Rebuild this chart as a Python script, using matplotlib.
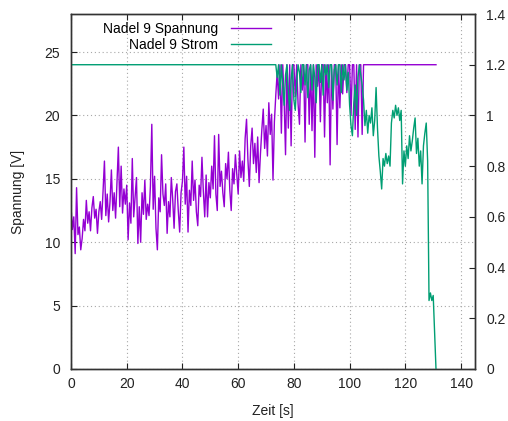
import numpy as np
import matplotlib
matplotlib.use("Agg")
import matplotlib.pyplot as plt

plt.rcParams['font.family'] = ['Liberation Sans', 'DejaVu Sans']

# Voltage samples, every 0.5 s from 0 s to 131 s
voltage = [
    12.8, 11.0, 12.0, 9.1, 14.3, 10.6, 11.2, 9.4, 10.3, 11.8,
    10.9, 13.3, 11.5, 12.4, 10.9, 12.7, 13.6, 11.9, 12.6, 10.7,
    12.4, 13.2, 11.8, 14.0, 16.4, 12.1, 13.8, 11.6, 13.2, 15.7,
    12.5, 13.9, 11.9, 14.6, 17.5, 12.8, 16.0, 12.3, 14.2, 13.0,
    14.5, 10.2, 13.1, 11.5, 16.6, 12.0, 13.6, 15.1, 9.9, 12.8,
    10.0, 13.9, 12.2, 14.9, 11.8, 13.0, 12.1, 14.4, 19.3, 12.6,
    15.2, 11.1, 9.4, 13.5, 12.4, 16.9, 13.8, 12.9, 14.6, 10.7,
    13.2, 12.0, 15.1, 13.4, 11.1, 14.0, 14.6, 12.5, 10.8, 13.9,
    14.8, 17.5, 13.0, 15.2, 10.8, 14.1, 12.9, 16.4, 13.3, 14.9,
    12.4, 11.3, 14.5, 13.6, 16.7, 14.0, 12.0, 15.3, 12.0, 14.7,
    13.5, 16.0, 14.2, 18.4, 13.8, 12.5, 18.5, 14.4, 15.6, 13.9,
    12.8, 16.2, 15.0, 17.1, 14.1, 12.5, 15.8, 14.6, 16.9, 15.3,
    13.8, 17.2, 15.1, 16.4, 14.8, 18.2, 19.7, 16.5, 14.4, 17.6,
    19.0, 16.2, 17.8, 15.5, 18.3, 14.7, 17.0, 18.9, 20.5, 17.4,
    19.2, 16.8, 21.0, 18.5, 20.1, 14.9, 19.5, 21.6, 23.4, 21.3,
    24.0, 18.6, 24.0, 21.2, 16.9, 24.0, 19.0, 24.0, 17.6, 24.0,
    24.0, 21.5, 24.0, 20.9, 19.3, 24.0, 22.0, 24.0, 17.9, 24.0,
    24.0, 19.3, 24.0, 18.8, 24.0, 16.7, 24.0, 22.3, 24.0, 19.5,
    24.0, 24.0, 18.3, 24.0, 21.0, 24.0, 16.1, 24.0, 20.5, 24.0,
    24.0, 17.7, 24.0, 20.6, 24.0, 21.7, 24.0, 24.0, 21.8, 24.0,
    24.0, 20.0, 24.0, 24.0, 18.9, 24.0, 18.3, 24.0, 24.0, 18.5,
    24.0, 24.0, 24.0, 24.0, 24.0, 24.0, 24.0, 24.0, 24.0, 24.0,
    24.0, 24.0, 24.0, 24.0, 24.0, 24.0, 24.0, 24.0, 24.0, 24.0,
    24.0, 24.0, 24.0, 24.0, 24.0, 24.0, 24.0, 24.0, 24.0, 24.0,
    24.0, 24.0, 24.0, 24.0, 24.0, 24.0, 24.0, 24.0, 24.0, 24.0,
    24.0, 24.0, 24.0, 24.0, 24.0, 24.0, 24.0, 24.0, 24.0, 24.0,
    24.0, 24.0, 24.0,
]
t_voltage = np.arange(len(voltage)) * 0.5

# Current: constant until 73 s, then sampled every 0.5 s up to 130 s, 0 at 131 s
t_current_start = [0.0, 73.0]
current_start = [1.2, 1.2]
current_sampled = [
    1.2, 1.15, 1.2, 1.08, 1.2, 1.12, 1.04, 1.16, 1.2, 1.1,
    1.02, 1.14, 1.2, 1.06, 1.02, 1.13, 1.2, 1.17, 1.09, 1.2,
    1.2, 1.12, 1.2, 1.07, 1.18, 1.2, 1.1, 1.2, 1.15, 1.05,
    1.2, 1.2, 1.13, 1.2, 1.08, 1.2, 1.16, 1.2, 1.11, 1.2,
    1.2, 1.06, 1.18, 1.2, 1.12, 1.2, 1.2, 1.09, 1.2, 1.14,
    1.2, 1.1, 1.17, 1.04, 0.96, 0.92, 1.05, 1.12, 1.0, 1.15,
    1.2, 1.16, 1.12, 1.06, 0.96, 1.02, 0.93, 1.0, 0.97, 1.03,
    0.92, 0.98, 1.11, 0.95, 0.84, 0.78, 0.71, 0.83, 0.8, 0.85,
    0.81, 0.84, 0.8, 0.97, 1.02, 0.99, 1.04, 1.0, 1.03, 0.98,
    1.02, 0.73, 0.86, 0.8, 0.88, 0.83, 0.92, 0.86, 0.9, 0.95,
    0.99, 0.85, 0.91, 0.8, 0.86, 0.73, 0.88, 0.93, 0.97, 0.82,
    0.27, 0.3, 0.27, 0.29,
]
t_current_end = [131.0]
current_end = [0.0]

t_current = np.concatenate([t_current_start,
                            73.5 + np.arange(len(current_sampled)) * 0.5,
                            t_current_end])
current = np.concatenate([current_start, current_sampled, current_end])

x_ticks = [0, 20, 40, 60, 80, 100, 120, 140]
y_ticks = [0, 5, 10, 15, 20, 25]
y2_ticks = [0, 0.2, 0.4, 0.6, 0.8, 1.0, 1.2, 1.4]
y2_labels = ["0", "0.2", "0.4", "0.6", "0.8", "1", "1.2", "1.4"]

purple = "#9400d3"
green = "#009e73"

fig = plt.figure(figsize=(5.08, 4.21), dpi=100)
ax = fig.add_axes([71 / 508, 1 - 369 / 421, (475 - 71) / 508, (369 - 14) / 421])
ax2 = ax.twinx()

l1, = ax.plot(t_voltage, voltage, color=purple, lw=1.0, label="Nadel 9 Spannung")
l2, = ax2.plot(t_current, current, color=green, lw=1.0, label="Nadel 9 Strom")

ax.set_xlim(0, 145)
ax.set_ylim(0, 28)
ax2.set_ylim(0, 1.4)

ax.set_xticks(x_ticks)
ax.set_yticks(y_ticks)
ax2.set_yticks(y2_ticks)
ax2.set_yticklabels(y2_labels)

ax.grid(True, linestyle=(0, (1, 2.5)), color="#a8a8a8", lw=0.8)

ax.tick_params(axis="x", direction="in", top=True, length=4, width=0.8,
               labelsize=10, pad=6, colors="#222222")
ax.tick_params(axis="y", direction="in", right=False, length=4, width=0.8,
               labelsize=10, pad=8, colors="#222222")
ax2.tick_params(axis="y", direction="in", length=4, width=0.8,
                labelsize=10, pad=8, colors="#222222")

for a in (ax, ax2):
    for s in a.spines.values():
        s.set_linewidth(1.0)
        s.set_color("#333333")

ax.set_xlabel("Zeit [s]", fontsize=10, labelpad=9, color="#222222")
ax.set_ylabel("Spannung [V]", fontsize=10, labelpad=14, color="#222222")

leg = ax2.legend(handles=[l1, l2], loc="upper left", bbox_to_anchor=(0.055, 1.004),
                 frameon=False, markerfirst=False, fontsize=10,
                 handlelength=2.9, handletextpad=0.9, labelspacing=0.13,
                 borderaxespad=0.3)

fig.savefig("out.png", dpi=100)
